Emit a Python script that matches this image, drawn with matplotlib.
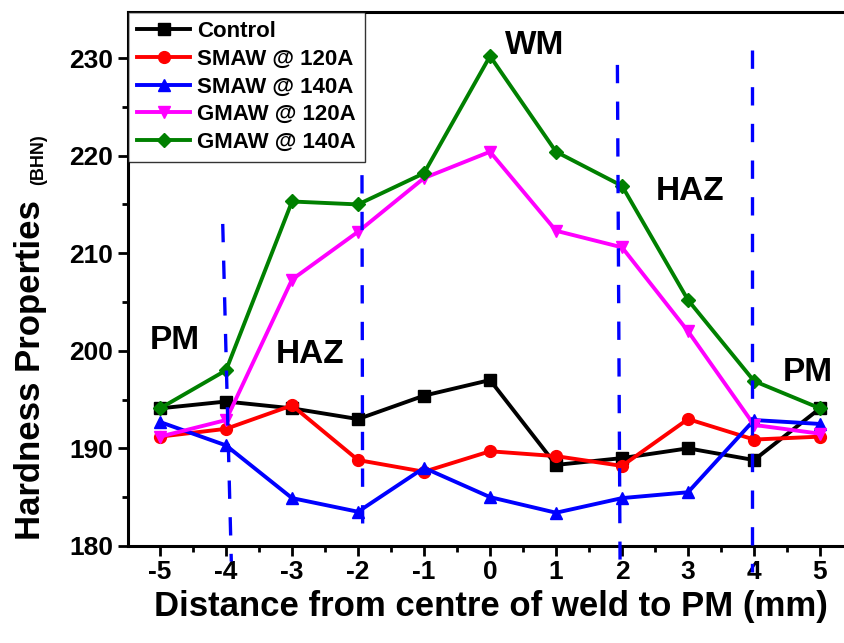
import numpy as np
import matplotlib.pyplot as plt
from matplotlib.ticker import MultipleLocator

plt.rcParams['font.family'] = ['Liberation Sans', 'DejaVu Sans']
plt.rcParams['font.weight'] = 'bold'
plt.rcParams['axes.unicode_minus'] = False

# %% data
dist = [-5, -4, -3, -2, -1, 0, 1, 2, 3, 4, 5]
control = [194.1, 194.8, 194.1, 193.0, 195.4, 197.0, 188.3, 189.0, 190.0, 188.8, 194.1]
smaw_120 = [191.2, 192.0, 194.4, 188.8, 187.6, 189.7, 189.2, 188.2, 193.0, 190.9, 191.2]
smaw_140 = [192.7, 190.3, 184.9, 183.5, 188.0, 185.0, 183.4, 184.9, 185.5, 192.9, 192.5]
gmaw_120 = [191.2, 192.9, 207.3, 212.2, 217.7, 220.4, 212.3, 210.6, 202.0, 192.4, 191.5]
gmaw_140 = [194.1, 198.0, 215.3, 215.0, 218.2, 230.2, 220.4, 216.9, 205.2, 196.9, 194.1]

# zone boundary lines (x_top, x_bottom, y_top, y_bottom)
zone_x_top = [-4.05, -1.94, 1.93, 3.97]
zone_x_bot = [-3.92, -1.93, 1.97, 3.97]
zone_y_top = [213.0, 218.0, 229.3, 230.8]
zone_y_bot = [178.4, 182.2, 178.6, 177.3]

zone_names = ['WM', 'HAZ', 'PM', 'HAZ', 'PM']
zone_xs = [0.68, -2.73, -4.77, 3.03, 4.82]
zone_ys = [231.3, 199.6, 201.1, 216.3, 197.8]

# %%
fig = plt.figure(figsize=(8.45, 6.43), dpi=100)
ax = fig.add_axes([0.1515, 0.151, 0.858, 0.830])

series = [
    (control, 'Control', 'black', 's'),
    (smaw_120, 'SMAW @ 120A', 'red', 'o'),
    (smaw_140, 'SMAW @ 140A', 'blue', '^'),
    (gmaw_120, 'GMAW @ 120A', 'magenta', 'v'),
    (gmaw_140, 'GMAW @ 140A', 'green', 'D'),
]
for vals, lab, col, mk in series:
    ms = 7.5 if mk == 'D' else 8.5
    ax.plot(dist, vals, color=col, marker=mk, markersize=ms, lw=2.8, label=lab)

for xt, xb, yt, yb in zip(zone_x_top, zone_x_bot, zone_y_top, zone_y_bot):
    ax.plot([xt, xb], [yt, yb], color='blue', ls=(0, (5.5, 5.5)), lw=2.4, clip_on=False, zorder=5)

for name, x, y in zip(zone_names, zone_xs, zone_ys):
    ax.text(x, y, name, fontsize=24, fontweight='bold', ha='center', va='center')

ax.set_xlim(-5.485, 5.5)
ax.set_ylim(180, 234.7)
ax.xaxis.set_major_locator(MultipleLocator(1))
ax.xaxis.set_minor_locator(MultipleLocator(0.5))
ax.yaxis.set_major_locator(MultipleLocator(10))
ax.yaxis.set_minor_locator(MultipleLocator(5))
ax.tick_params(which='major', length=7, width=2, labelsize=19, direction='out')
ax.tick_params(which='minor', length=4, width=2, direction='out')
for sp in ax.spines.values():
    sp.set_linewidth(2.2)
for lab in ax.get_xticklabels() + ax.get_yticklabels():
    lab.set_fontweight('bold')

ax.set_xlabel('Distance from centre of weld to PM (mm)', fontsize=25, fontweight='bold', labelpad=4)
fig.text(0.036, 0.425, 'Hardness Properties', rotation=90, fontsize=25,
         fontweight='bold', ha='center', va='center')
fig.text(0.046, 0.752, '(BHN)', rotation=90, fontsize=13,
         fontweight='bold', ha='center', va='center')

leg = ax.legend(loc='upper left', bbox_to_anchor=(0, 1), borderaxespad=0,
                fontsize=16, frameon=True, fancybox=False, edgecolor='black',
                handlelength=2.4, handletextpad=0.3, labelspacing=0.3,
                borderpad=0.4)
leg.get_frame().set_linewidth(1)
for t in leg.get_texts():
    t.set_fontweight('bold')

fig.savefig('out.png', dpi=100)
